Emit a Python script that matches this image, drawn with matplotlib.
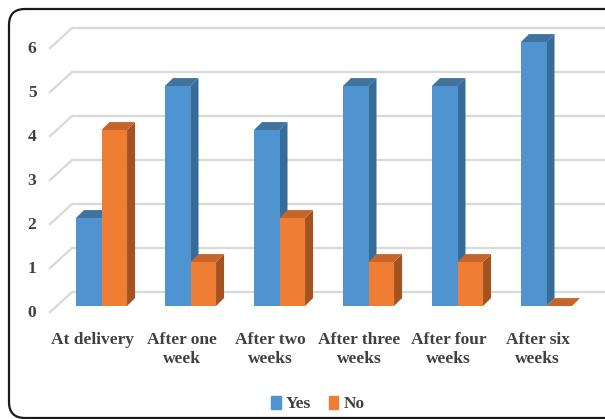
import matplotlib.pyplot as plt
from matplotlib.patches import Polygon, FancyBboxPatch, Patch
from matplotlib.transforms import IdentityTransform

categories = ["At delivery", "After one\nweek", "After two\nweeks", "After three\nweeks",
              "After four\nweeks", "After six\nweeks"]
yes_values = [2, 5, 4, 5, 5, 6]
no_values = [4, 1, 2, 1, 1, 0]
y_ticks = [0, 1, 2, 3, 4, 5, 6]

# face colours: front, side, top
blue = ("#4f94d1", "#376c98", "#41739f")
orange = ("#ef7d33", "#a2531f", "#c5652b")
text_color = "#404040"
grid_color = "#d9d9d9"

bar_w = 0.287
# oblique depth offsets (data units)
bar_dx, bar_dy = 0.09, 0.18
wall_dx, wall_dy = 0.17, 0.32
floor_dx, floor_dy = -0.08, -0.14

plt.rcParams["font.family"] = ["Liberation Serif", "DejaVu Serif"]

fig = plt.figure(figsize=(6.05, 4.19), dpi=100)
ax = fig.add_axes([57 / 605, (419 - 306) / 419, 534 / 605, 264 / 419])
ax.set_xlim(-0.5, 5.5)
ax.set_ylim(0, 6)
ax.axis("off")

# back wall gridlines + diagonal floor lines
for v in y_ticks:
    ax.plot([-0.5 + wall_dx, 5.5 + wall_dx], [v + wall_dy, v + wall_dy],
            color=grid_color, lw=1.6, zorder=1, clip_on=False)
    ax.plot([-0.5 + floor_dx, -0.5 + wall_dx], [v + floor_dy, v + wall_dy],
            color=grid_color, lw=1.6, zorder=1, clip_on=False)
    ax.text(-0.78, v + floor_dy - 0.03, str(v), ha="center", va="center",
            fontsize=12.5, fontweight="bold", color=text_color)


def draw_bar(x0, h, cols, z):
    front = ax.bar(x0, h, width=bar_w, align="edge", color=cols[0], zorder=z)
    x1 = x0 + bar_w
    side = Polygon([(x1, 0), (x1 + bar_dx, bar_dy), (x1 + bar_dx, h + bar_dy), (x1, h)],
                   closed=True, facecolor=cols[1], edgecolor="none", zorder=z)
    top = Polygon([(x0, h), (x0 + bar_dx, h + bar_dy), (x1 + bar_dx, h + bar_dy), (x1, h)],
                  closed=True, facecolor=cols[2], edgecolor="none", zorder=z)
    ax.add_patch(side)
    ax.add_patch(top)
    for p in (side, top):
        p.set_clip_on(False)
    front.patches[0].set_zorder(z + 0.1)
    return front


z = 2
for i, (yv, nv) in enumerate(zip(yes_values, no_values)):
    draw_bar(i - bar_w, yv, blue, z)
    draw_bar(i, nv, orange, z + 1)
    z += 2

for i, lab in enumerate(categories):
    ax.text(i - 0.1, -0.6, lab, ha="center", va="top", fontsize=12.5,
            fontweight="bold", color=text_color, linespacing=1.25)

handles = [Patch(color=blue[0], label="Yes"), Patch(color=orange[0], label="No")]
fig.legend(handles=handles, loc="center", bbox_to_anchor=(318 / 605, 1 - 404 / 419),
           ncol=2, frameon=False, handlelength=0.55, handleheight=0.75,
           handletextpad=0.3, columnspacing=1.0,
           prop={"size": 12.5, "weight": "bold"}, labelcolor=text_color)

# rounded outer frame
frame = FancyBboxPatch((9, 1), 620, 409, boxstyle="round,pad=0,rounding_size=16",
                       transform=IdentityTransform(), facecolor="none",
                       edgecolor="#1a1a1a", lw=1.6)
fig.patches.append(frame)

fig.savefig("out.png", dpi=100)
